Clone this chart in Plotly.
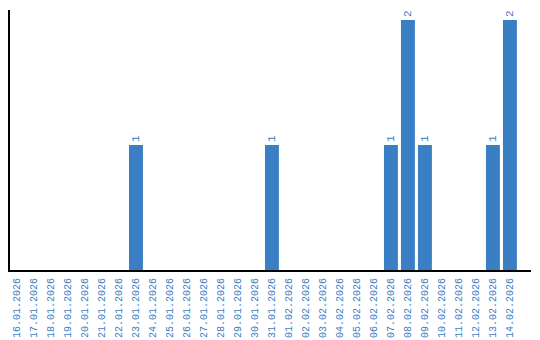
import plotly.graph_objects as go

dates = ["16.01.2026", "17.01.2026", "18.01.2026", "19.01.2026", "20.01.2026",
         "21.01.2026", "22.01.2026", "23.01.2026", "24.01.2026", "25.01.2026",
         "26.01.2026", "27.01.2026", "28.01.2026", "29.01.2026", "30.01.2026",
         "31.01.2026", "01.02.2026", "02.02.2026", "03.02.2026", "04.02.2026",
         "05.02.2026", "06.02.2026", "07.02.2026", "08.02.2026", "09.02.2026",
         "10.02.2026", "11.02.2026", "12.02.2026", "13.02.2026", "14.02.2026"]
counts = [0, 0, 0, 0, 0, 0, 0, 1, 0, 0,
          0, 0, 0, 0, 0, 1, 0, 0, 0, 0,
          0, 0, 1, 2, 1, 0, 0, 0, 1, 2]

blue = "#3a7ec4"
labels = [str(v) if v else "" for v in counts]

fig = go.Figure(go.Bar(
    x=dates, y=counts, marker_color=blue, marker_line_width=0,
    text=labels, textposition="outside", textangle=-90,
    textfont=dict(family="Liberation Mono", size=11, color=blue),
    cliponaxis=False, hoverinfo="skip",
))
fig.update_layout(
    width=540, height=340, margin=dict(l=10, r=9, t=10, b=70, autoexpand=False),
    paper_bgcolor="white", plot_bgcolor="white", bargap=0.18,
    showlegend=False,
)
fig.update_xaxes(
    type="category", range=[-0.41, 30.24], tickangle=-90, automargin=False,
    tickfont=dict(family="Liberation Mono", size=10, color=blue),
    showline=True, linecolor="black", linewidth=2, ticks="", showgrid=False,
    ticklabelstandoff=2,
)
fig.update_yaxes(
    range=[0, 2.08], showline=True, linecolor="black", linewidth=2,
    showticklabels=False, ticks="", showgrid=False, zeroline=False,
    automargin=False,
)
fig.write_html("out.html")
